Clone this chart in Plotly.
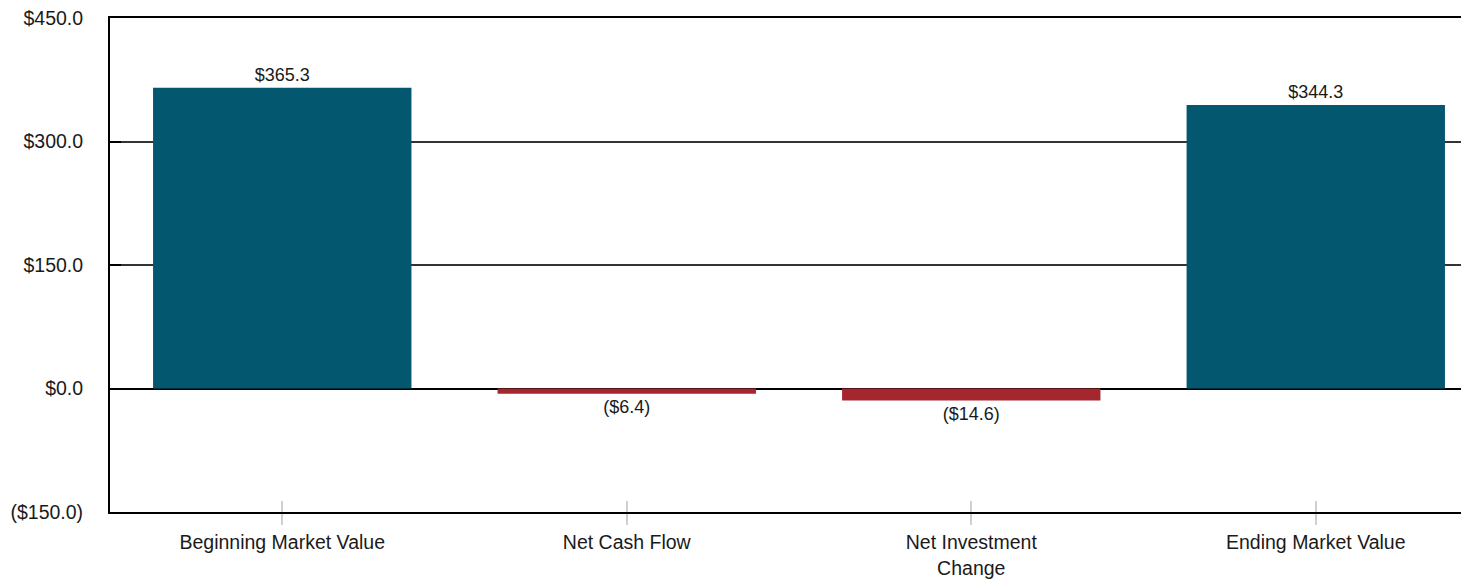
import plotly.graph_objects as go

categories = ["Beginning Market Value", "Net Cash Flow", "Net Investment<br>Change", "Ending Market Value"]
values = [365.3, -6.4, -14.6, 344.3]
colors = ["#03586F", "#A4262F", "#A4262F", "#03586F"]
y_tickvals = [-150, 0, 150, 300, 450]
y_ticktext = ["($150.0)", "$0.0", "$150.0", "$300.0", "$450.0"]


def fmt(v):
    return f"${v:,.1f}" if v >= 0 else f"(${abs(v):,.1f})"


labels = [fmt(v) for v in values]
FONT = "Liberation Sans Narrow, Arial Narrow, Liberation Sans, Arial, sans-serif"

fig = go.Figure()
fig.add_trace(go.Bar(
    x=categories, y=values, marker=dict(color=colors, line=dict(width=0)),
    width=0.75, text=labels, textposition="outside", cliponaxis=False,
    textfont=dict(family=FONT, size=18, color="#1a1a1a"),
    hoverinfo="skip", showlegend=False,
))
fig.add_trace(go.Scatter(
    x=categories, y=[None] * len(categories), xaxis="x2", mode="markers",
    showlegend=False, hoverinfo="skip",
))

fig.update_layout(
    width=1469, height=583,
    margin=dict(l=102, r=0, t=10, b=79, autoexpand=False),
    paper_bgcolor="white", plot_bgcolor="white",
    font=dict(family=FONT, size=19.5, color="#1a1a1a"),
    xaxis=dict(
        type="category", categoryarray=categories, range=[-0.5, 3.468],
        showline=True, linecolor="black", linewidth=2, mirror=True,
        ticks="outside", ticklen=11, tickcolor="#d0d0d0", tickwidth=2,
        showgrid=False, tickfont=dict(family=FONT, size=19.5, color="#1a1a1a"),
        ticklabelstandoff=1, automargin=False, ticklabeloverflow="allow",
    ),
    xaxis2=dict(
        type="category", categoryarray=categories, matches="x", overlaying="x",
        anchor="y", side="bottom", showline=False, showgrid=False,
        ticks="inside", ticklen=11, tickcolor="#d0d0d0", tickwidth=2,
        showticklabels=False,
    ),
    yaxis=dict(
        range=[-150, 450], tickvals=y_tickvals, ticktext=y_ticktext,
        showline=True, linecolor="black", linewidth=2,
        showgrid=True, gridcolor="#333333", gridwidth=1.5,
        zeroline=True, zerolinecolor="black", zerolinewidth=2,
        ticks="inside", ticklen=11, tickcolor="black", tickwidth=2,
        ticklabelstandoff=21, automargin=False, ticklabeloverflow="allow",
        tickfont=dict(family=FONT, size=19.5, color="#1a1a1a"),
    ),
    bargap=0.25,
)

fig.write_html("out.html")
